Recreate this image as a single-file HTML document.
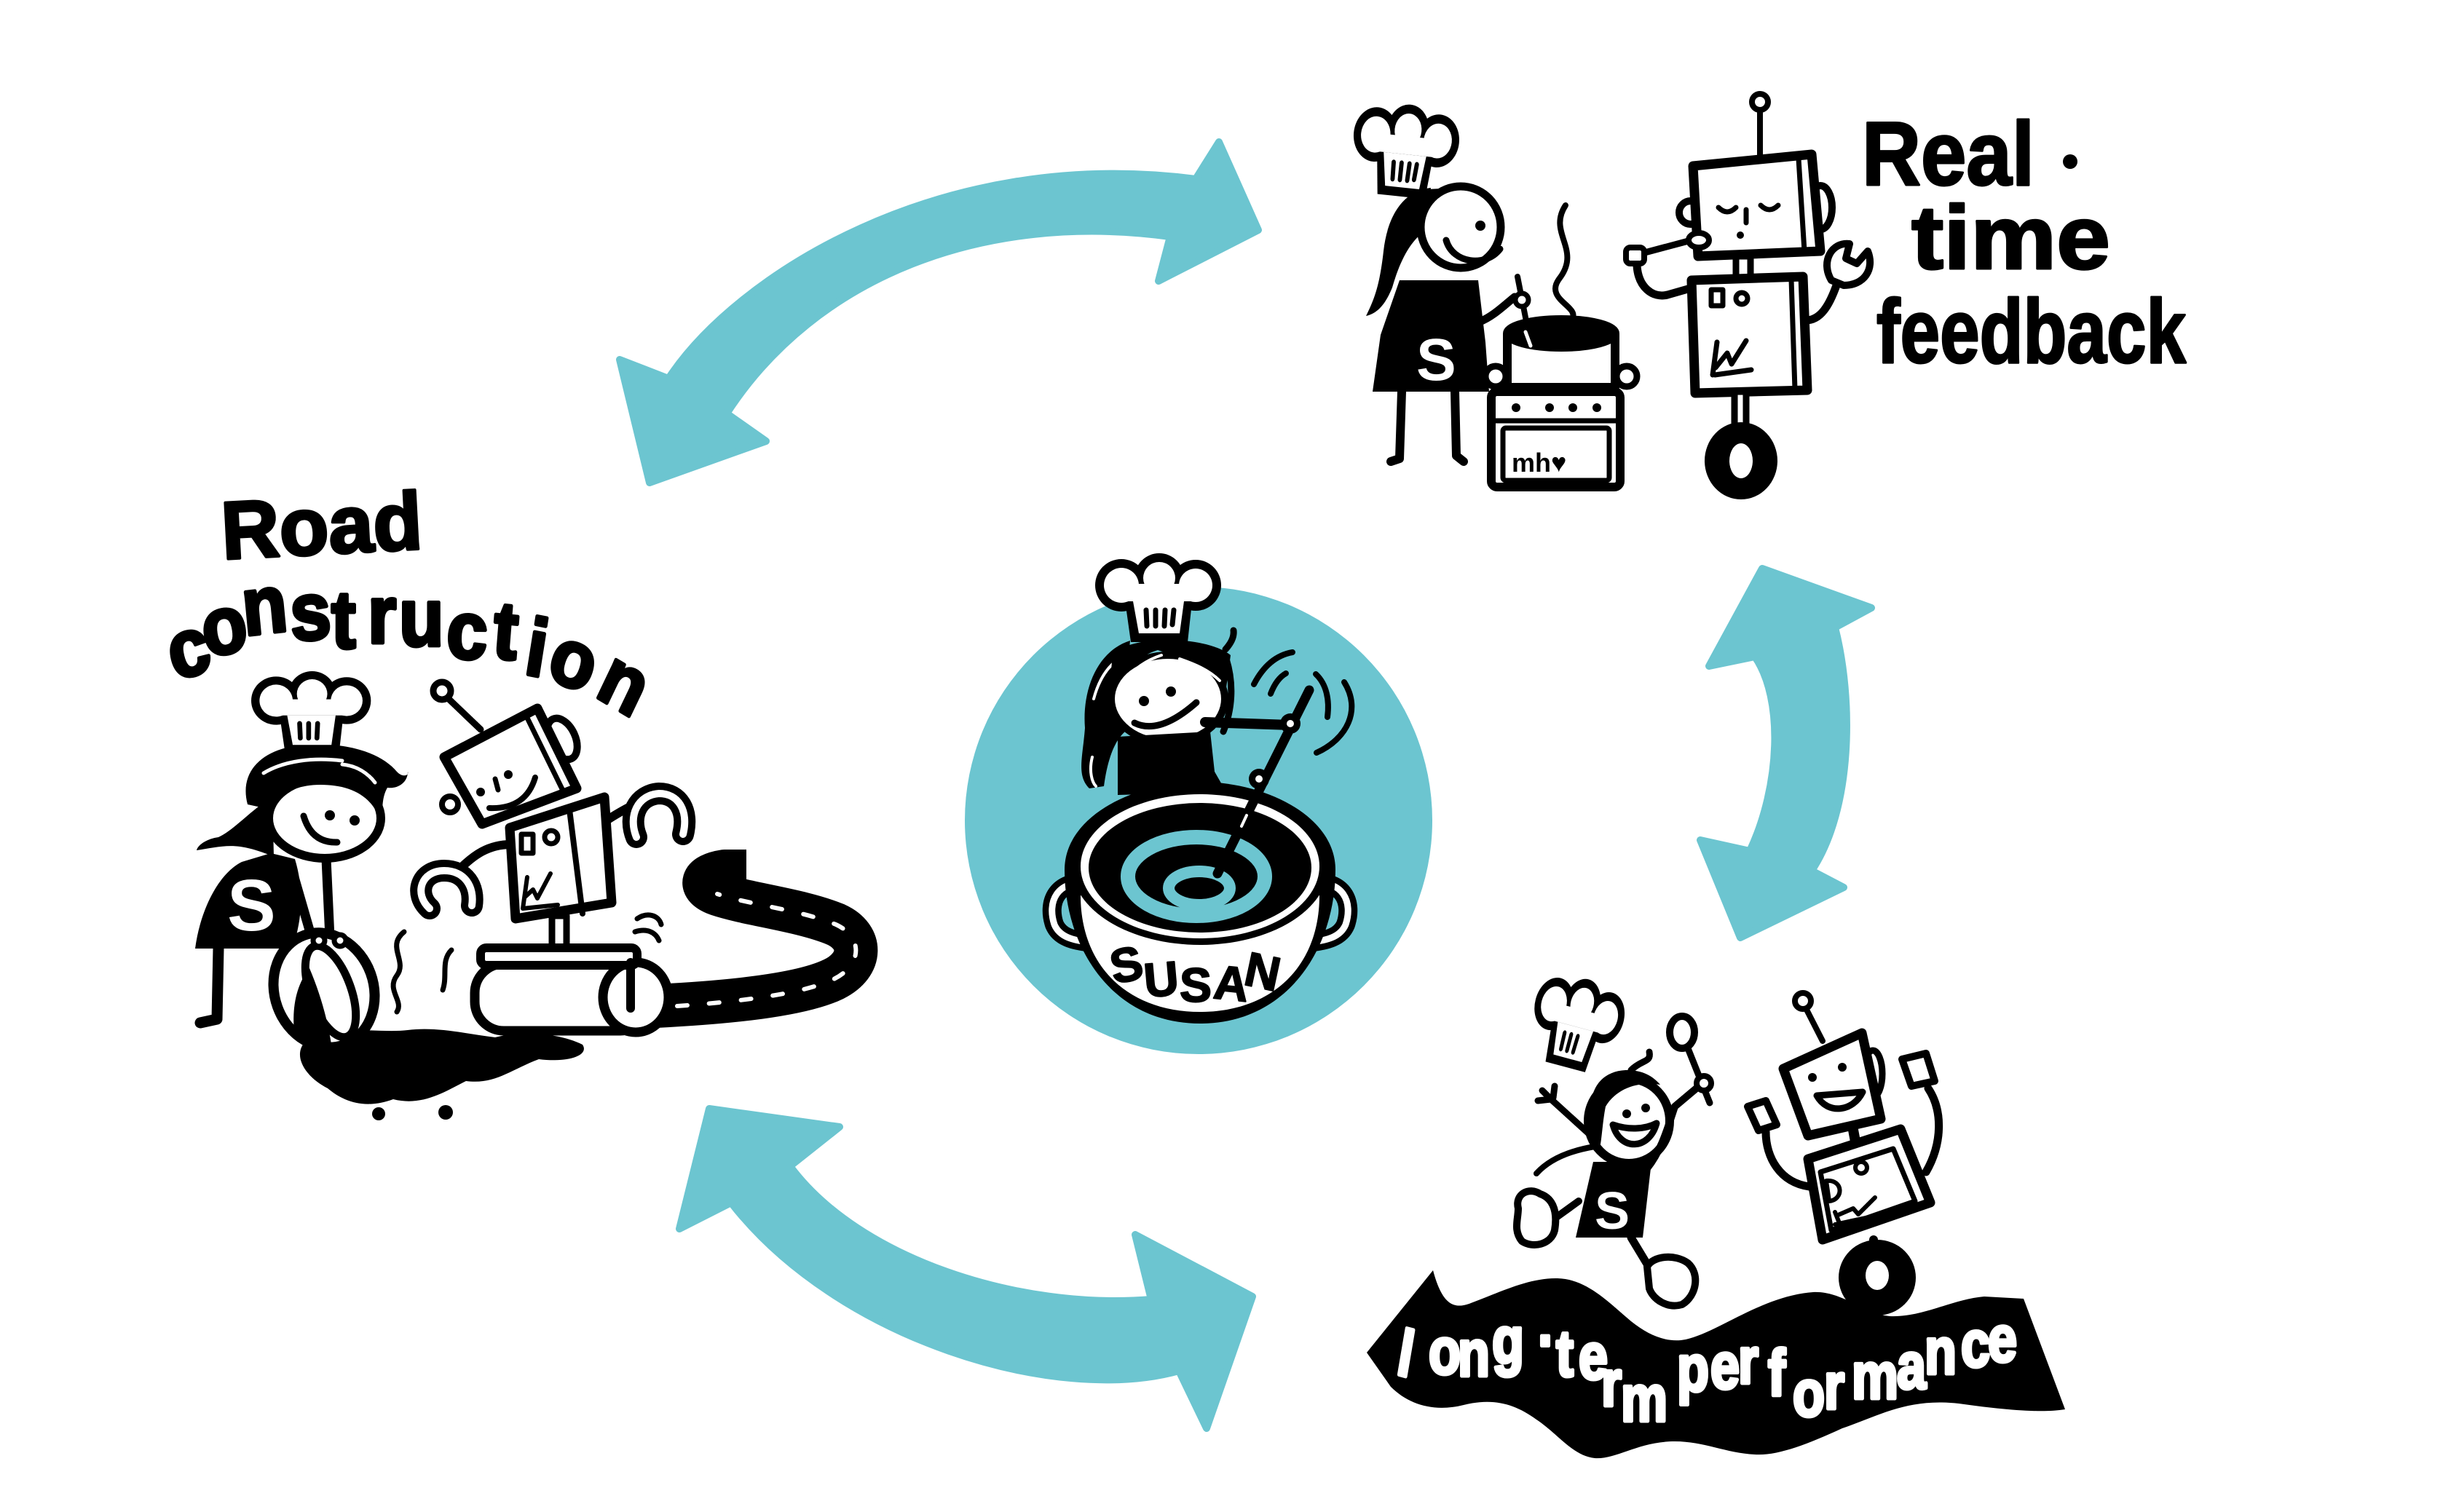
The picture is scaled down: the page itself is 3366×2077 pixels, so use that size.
<!DOCTYPE html>
<html><head><meta charset="utf-8"><style>
html,body{margin:0;padding:0;background:#fff;width:3366px;height:2077px;overflow:hidden}
svg{display:block}
.t{font-family:"Liberation Sans","DejaVu Sans",sans-serif;font-weight:bold}
</style></head><body>
<svg width="3366" height="2077" viewBox="0 0 3366 2077" xmlns="http://www.w3.org/2000/svg" stroke-linecap="round" stroke-linejoin="round">
<rect width="3366" height="2077" fill="#fff"/>

<!-- ===== ARROWS ===== -->
<g fill="#6cc5d0" stroke="#6cc5d0" stroke-width="10">
<path d="M851,494 L918,520 C1010,380 1290,200 1642,246 L1674,195 L1728,316 L1591,386 L1607,325 C1350,290 1120,380 998,568 L1052,606 L892,663 Z"/>
<path d="M974,1523 L1153,1548 L1085,1602 C1180,1730 1400,1800 1581,1785 L1559,1696 L1720,1781 L1657,1962 L1619,1883 C1450,1930 1150,1840 1004,1652 L933,1688 Z"/>
<path d="M2420,781 L2570,835 L2520,862 C2545,960 2545,1110 2488,1196 L2532,1219 L2390,1288 L2335,1154 L2403,1169 C2445,1080 2450,960 2410,902 L2347,915 Z"/>
</g>

<!-- ===== CENTER ===== -->
<circle cx="1646" cy="1127" r="321" fill="#6cc5d0"/>
<path d="M1552,880 C1505,895 1486,950 1490,1000 C1487,1040 1478,1065 1496,1083 L1516,1080 C1520,1050 1528,1020 1545,1005 L1545,950 Z" fill="#000"/>
<path d="M1683,892 C1692,882 1695,874 1694,866 M1684,905 C1695,940 1692,975 1680,1005" stroke="#000" stroke-width="9" fill="none"/>
<path d="M1500,1040 C1495,1060 1500,1075 1505,1080 M1502,960 C1510,930 1525,910 1545,900" stroke="#fff" stroke-width="4" fill="none"/>
<ellipse cx="1604" cy="960" rx="78" ry="60" fill="#fff" stroke="#000" stroke-width="10"/>
<path d="M1522,965 C1538,925 1565,900 1590,893 C1625,905 1660,915 1684,945 L1690,900 C1660,875 1560,870 1528,898 Z" fill="#000"/>
<path d="M1545,935 C1560,915 1580,905 1595,900 M1620,905 C1640,912 1660,920 1675,935" stroke="#fff" stroke-width="4" fill="none"/>
<circle cx="1571" cy="963" r="7" fill="#000"/>
<circle cx="1608" cy="950" r="7" fill="#000"/>
<path d="M1558,993 Q1592,1010 1643,965" stroke="#000" stroke-width="9" fill="none"/>
<polygon points="1535,1012 1662,1005 1668,1060 1684,1088 1535,1092" fill="#000"/>
<path d="M1655,992 L1772,996" stroke="#000" stroke-width="14" fill="none"/>
<g stroke="#000" stroke-width="8" fill="none">
<path d="M1722,940 C1735,915 1752,900 1775,896"/>
<path d="M1745,953 C1750,940 1757,930 1766,925"/>
<path d="M1807,926 C1822,940 1826,962 1823,985"/>
<path d="M1808,1034 C1850,1015 1870,975 1846,937"/>
</g>
<path d="M1497,1213 C1450,1208 1438,1240 1448,1270 C1458,1294 1490,1292 1507,1297" stroke="#000" stroke-width="26" fill="none"/>
<path d="M1497,1213 C1450,1208 1438,1240 1448,1270 C1458,1294 1490,1292 1507,1297" stroke="#fff" stroke-width="9" fill="none"/>
<path d="M1799,1213 C1846,1208 1858,1240 1848,1270 C1838,1294 1806,1292 1789,1297" stroke="#000" stroke-width="26" fill="none"/>
<path d="M1799,1213 C1846,1208 1858,1240 1848,1270 C1838,1294 1806,1292 1789,1297" stroke="#fff" stroke-width="9" fill="none"/>
<path d="M1462,1195 C1462,1120 1560,1074 1648,1074 C1736,1074 1834,1120 1834,1195 C1834,1300 1770,1406 1648,1406 C1526,1406 1462,1300 1462,1195 Z" fill="#000"/>
<path d="M1484,1230 C1484,1330 1552,1390 1648,1390 C1744,1390 1812,1330 1812,1230 Z" fill="#fff"/>
<ellipse cx="1648" cy="1190" rx="176" ry="108" fill="#000"/>
<ellipse cx="1648" cy="1190" rx="164" ry="99" fill="#fff"/>
<ellipse cx="1648" cy="1192" rx="153" ry="89" fill="#000"/>
<ellipse cx="1643" cy="1204" rx="94" ry="54" fill="none" stroke="#6cc5d0" stroke-width="20"/>
<ellipse cx="1647" cy="1220" rx="42" ry="23" fill="none" stroke="#6cc5d0" stroke-width="16"/>
<path d="M1798,948 L1672,1200" stroke="#000" stroke-width="13" fill="none"/>
<path d="M1712,1120 L1705,1135" stroke="#fff" stroke-width="4" fill="none"/>
<circle cx="1772" cy="994" r="14" fill="#000"/>
<circle cx="1772" cy="994" r="5" fill="#fff"/>
<circle cx="1729" cy="1070" r="14" fill="#000"/>
<circle cx="1729" cy="1070" r="5" fill="#fff"/>
<text class="t" font-size="66" stroke="#000" stroke-width="2" x="1530 1573 1620 1665 1706" y="1352 1370 1376 1371 1352" rotate="-12 -5 0 6 12">SUSAN</text>
<g transform="translate(1504,760)">
<g fill="#000"><circle cx="36" cy="44" r="36"/><circle cx="88" cy="34" r="34"/><circle cx="138" cy="44" r="35"/><rect x="14" y="40" width="144" height="38" rx="18"/><polygon points="40,58 134,58 127,122 49,122"/></g>
<g fill="#fff"><circle cx="36" cy="44" r="24"/><circle cx="88" cy="34" r="22"/><circle cx="138" cy="44" r="23"/><rect x="26" y="42" width="120" height="24" rx="12"/><polygon points="52,66 122,66 116,110 60,110"/></g>
<g stroke="#000" stroke-width="7"><line x1="70" y1="78" x2="71" y2="100"/><line x1="83" y1="78" x2="83" y2="100"/><line x1="96" y1="78" x2="95" y2="100"/><line x1="108" y1="78" x2="106" y2="98"/></g>
</g>

<!-- ===== TOP RIGHT SCENE ===== -->
<path d="M1965,258 C1925,262 1905,300 1900,345 C1895,390 1888,410 1876,434 C1895,430 1905,412 1912,395 C1922,360 1936,332 1956,318 Z" fill="#000"/>
<ellipse cx="2006" cy="312" rx="55" ry="56" fill="#fff" stroke="#000" stroke-width="11"/>
<path d="M1952,300 C1958,275 1975,262 1998,258 L1960,260 Z" fill="#000"/>
<circle cx="2033" cy="310" r="7" fill="#000"/>
<path d="M1986,330 C1995,362 2040,368 2060,342" stroke="#000" stroke-width="9" fill="none"/>
<polygon points="1922,385 2030,385 2040,470 2045,538 1885,538 1896,460" fill="#000"/>
<text class="t" font-size="82" x="1945" y="522" fill="#fff">S</text>
<path d="M1925,538 L1922,630 L1910,634 M1998,538 L2000,626 L2010,634" stroke="#000" stroke-width="12" fill="none"/>
<path d="M2032,442 C2050,435 2065,420 2080,408" stroke="#000" stroke-width="11" fill="none"/>
<path d="M2084,380 L2104,482" stroke="#000" stroke-width="8" fill="none"/>
<circle cx="2090" cy="412" r="9" fill="#fff" stroke="#000" stroke-width="7"/>
<path d="M2150,282 C2125,320 2172,342 2142,382 C2120,410 2166,420 2160,436" stroke="#000" stroke-width="8" fill="none"/>
<circle cx="2054" cy="517" r="14" fill="#fff" stroke="#000" stroke-width="9"/>
<circle cx="2234" cy="517" r="14" fill="#fff" stroke="#000" stroke-width="9"/>
<path d="M2070,460 L2070,532 L2218,532 L2218,460 Z" fill="#fff" stroke="#000" stroke-width="12"/>
<ellipse cx="2144" cy="458" rx="75" ry="20" fill="#000" stroke="#000" stroke-width="10"/>
<path d="M2095,456 L2102,475" stroke="#fff" stroke-width="5"/>
<rect x="2048" y="538" width="177" height="131" rx="8" fill="#fff" stroke="#000" stroke-width="12"/>
<line x1="2050" y1="578" x2="2222" y2="578" stroke="#000" stroke-width="7"/>
<rect x="2064" y="588" width="146" height="72" rx="4" fill="none" stroke="#000" stroke-width="7"/>
<g fill="#000"><circle cx="2082" cy="560" r="6"/><circle cx="2128" cy="560" r="6"/><circle cx="2160" cy="560" r="6"/><circle cx="2193" cy="560" r="6"/></g>
<text class="t" font-size="36" x="2076" y="648">mh♥</text>
<line x1="2417" y1="152" x2="2417" y2="222" stroke="#000" stroke-width="8"/>
<circle cx="2417" cy="140" r="11" fill="#fff" stroke="#000" stroke-width="8"/>
<circle cx="2322" cy="292" r="16" fill="#fff" stroke="#000" stroke-width="10"/>
<ellipse cx="2500" cy="285" rx="16" ry="30" fill="#fff" stroke="#000" stroke-width="10"/>
<polygon points="2325,228 2488,212 2500,345 2332,352" fill="#fff" stroke="#000" stroke-width="13"/>
<path d="M2470,218 L2478,345" stroke="#000" stroke-width="7"/>
<g stroke="#000" stroke-width="7" fill="none"><path d="M2360,285 Q2372,297 2384,285"/><path d="M2418,282 Q2430,294 2442,282"/><path d="M2398,288 L2398,306"/></g>
<circle cx="2390" cy="323" r="5" fill="#000"/>
<path d="M2240,352 L2330,328" stroke="#000" stroke-width="9"/>
<ellipse cx="2333" cy="330" rx="14" ry="10" fill="#fff" stroke="#000" stroke-width="8"/>
<rect x="2233" y="340" width="25" height="22" rx="6" fill="#fff" stroke="#000" stroke-width="8"/>
<path d="M2248,365 C2250,395 2270,410 2290,405 L2325,395" stroke="#000" stroke-width="11" fill="none"/>
<rect x="2384" y="352" width="20" height="32" fill="#fff" stroke="#000" stroke-width="9"/>
<polygon points="2323,385 2476,380 2482,536 2328,540" fill="#fff" stroke="#000" stroke-width="13"/>
<path d="M2460,384 L2465,535" stroke="#000" stroke-width="7"/>
<rect x="2350" y="398" width="16" height="22" fill="#fff" stroke="#000" stroke-width="7"/>
<circle cx="2392" cy="410" r="8" fill="#fff" stroke="#000" stroke-width="7"/>
<path d="M2352,515 L2358,470 M2356,505 L2372,485 L2378,500 L2398,468 M2355,515 L2405,508" stroke="#000" stroke-width="7" fill="none"/>
<path d="M2480,440 C2500,440 2512,420 2522,392" stroke="#000" stroke-width="11" fill="none"/>
<path d="M2515,385 C2500,360 2515,332 2540,335 L2535,355 L2550,362 L2565,345 C2575,370 2560,392 2532,392 Z" fill="#fff" stroke="#000" stroke-width="10"/>
<rect x="2382" y="538" width="16" height="48" fill="#fff" stroke="#000" stroke-width="9"/>
<ellipse cx="2391" cy="633" rx="50" ry="53" fill="#000"/>
<ellipse cx="2391" cy="633" rx="16" ry="24" fill="#fff"/>
<text class="t" x="2557" y="254" font-size="124" stroke="#000" stroke-width="3" textLength="237" lengthAdjust="spacingAndGlyphs">Real</text>
<circle cx="2843" cy="222" r="10" fill="#000"/>
<text class="t" x="2625" y="369" font-size="124" stroke="#000" stroke-width="3" textLength="273" lengthAdjust="spacingAndGlyphs">time</text>
<text class="t" x="2577" y="498" font-size="124" stroke="#000" stroke-width="3" textLength="425" lengthAdjust="spacingAndGlyphs">feedback</text>
<g transform="translate(1864,136) rotate(6) scale(0.84 1.04)">
<g fill="#000"><circle cx="36" cy="44" r="36"/><circle cx="88" cy="34" r="34"/><circle cx="138" cy="44" r="35"/><rect x="14" y="40" width="144" height="38" rx="18"/><polygon points="40,58 134,58 127,122 49,122"/></g>
<g fill="#fff"><circle cx="36" cy="44" r="24"/><circle cx="88" cy="34" r="22"/><circle cx="138" cy="44" r="23"/><rect x="26" y="42" width="120" height="24" rx="12"/><polygon points="52,66 122,66 116,110 60,110"/></g>
<g stroke="#000" stroke-width="7"><line x1="70" y1="78" x2="71" y2="100"/><line x1="83" y1="78" x2="83" y2="100"/><line x1="96" y1="78" x2="95" y2="100"/><line x1="108" y1="78" x2="106" y2="98"/></g>
</g>

<!-- ===== LEFT SCENE ===== -->
<text class="t" x="306" y="768" font-size="112" stroke="#000" stroke-width="4" textLength="276" lengthAdjust="spacingAndGlyphs" transform="rotate(-3 306 768)">Road</text>
<text class="t" font-size="112" stroke="#000" stroke-width="5" transform="scale(0.9 1)" x="266.7 314.4 373.3 444.4 505.6 561.1 608.9 680 750 797.8 831.1 905.6" y="935 903 873 880 890 883 887 903 903 925 930 955" rotate="-15 -10 -6 -3 0 0 0 3 5 10 20 28">construction</text>
<!-- road -->
<path d="M900,1382 C1000,1377 1100,1367 1145,1345 C1185,1325 1185,1287 1148,1270 C1100,1250 1030,1243 985,1228 C958,1218 962,1202 995,1197 L1025,1197" stroke="#000" stroke-width="60" fill="none" stroke-linecap="butt"/>
<path d="M930,1382 C1000,1377 1100,1367 1145,1345 C1185,1325 1185,1287 1148,1270 C1100,1250 1030,1243 985,1228" stroke="#fff" stroke-width="6" fill="none" stroke-dasharray="14 30"/>
<!-- puddle -->
<path d="M420,1430 C450,1405 520,1420 560,1415 C600,1410 640,1420 680,1425 C720,1415 770,1420 800,1435 C810,1450 780,1460 740,1455 C700,1470 680,1490 640,1485 C610,1500 580,1520 540,1510 C500,1525 470,1512 450,1495 C420,1480 400,1450 420,1430 Z" fill="#000"/>
<circle cx="612" cy="1528" r="10" fill="#000"/><circle cx="520" cy="1530" r="9" fill="#000"/>
<!-- chef left -->
<path d="M372,1172 L405,1180 C420,1230 412,1270 402,1303 L268,1303 C275,1250 300,1200 332,1184 Z" fill="#000"/>
<text class="t" font-size="100" x="312" y="1278" fill="#fff">S</text>
<path d="M300,1303 L298,1400 L275,1405" stroke="#000" stroke-width="15" fill="none"/>
<ellipse cx="446" cy="1124" rx="77" ry="55" fill="#fff" stroke="#000" stroke-width="12"/>
<path d="M340,1105 C328,1060 360,1030 410,1024 C465,1018 520,1030 545,1060 C552,1068 562,1066 560,1060 C560,1076 545,1084 532,1082 C524,1096 526,1110 524,1122 L514,1110 C498,1086 470,1078 440,1078 C405,1078 382,1092 372,1112 Z" fill="#000"/>
<path d="M374,1095 C345,1112 322,1140 300,1150 C285,1152 272,1160 270,1168 C290,1165 310,1160 330,1163 C350,1166 362,1172 376,1176 Z" fill="#000"/>
<path d="M362,1062 C390,1045 430,1040 470,1045 M470,1050 C490,1052 505,1062 515,1075" stroke="#fff" stroke-width="5" fill="none"/>
<circle cx="453" cy="1120" r="7" fill="#000"/><circle cx="487" cy="1127" r="7" fill="#000"/>
<path d="M417,1121 Q428,1158 463,1157" stroke="#000" stroke-width="9" fill="none"/>
<path d="M448,1180 L453,1288 M402,1198 L428,1288" stroke="#000" stroke-width="13" fill="none"/>
<ellipse cx="445" cy="1360" rx="68" ry="80" transform="rotate(-20 445 1360)" fill="#fff" stroke="#000" stroke-width="14"/>
<ellipse cx="454" cy="1362" rx="28" ry="66" transform="rotate(-20 454 1362)" fill="#fff" stroke="#000" stroke-width="11"/>
<path d="M425,1330 C442,1370 452,1410 456,1442 L405,1425 C400,1390 405,1355 425,1330 Z" fill="#000"/>
<circle cx="438" cy="1292" r="8" fill="#fff" stroke="#000" stroke-width="7"/>
<circle cx="467" cy="1292" r="8" fill="#fff" stroke="#000" stroke-width="7"/>
<path d="M555,1280 C530,1300 560,1320 545,1340 C530,1360 555,1375 545,1390" stroke="#000" stroke-width="7" fill="none"/>
<path d="M620,1305 C605,1320 615,1340 608,1360" stroke="#000" stroke-width="7" fill="none"/>
<path d="M875,1262 C890,1252 905,1258 908,1270 M872,1280 C888,1275 900,1280 905,1292" stroke="#000" stroke-width="7" fill="none"/>
<g transform="translate(345,922) scale(0.95 0.92)">
<g fill="#000"><circle cx="36" cy="44" r="36"/><circle cx="88" cy="34" r="34"/><circle cx="138" cy="44" r="35"/><rect x="14" y="40" width="144" height="38" rx="18"/><polygon points="40,58 134,58 127,122 49,122"/></g>
<g fill="#fff"><circle cx="36" cy="44" r="24"/><circle cx="88" cy="34" r="22"/><circle cx="138" cy="44" r="23"/><rect x="26" y="42" width="120" height="24" rx="12"/><polygon points="52,66 122,66 116,110 60,110"/></g>
<g stroke="#000" stroke-width="7"><line x1="70" y1="78" x2="71" y2="100"/><line x1="83" y1="78" x2="83" y2="100"/><line x1="96" y1="78" x2="95" y2="100"/></g>
</g>
<!-- robot left -->
<line x1="614" y1="958" x2="660" y2="1002" stroke="#000" stroke-width="9"/>
<circle cx="607" cy="949" r="12" fill="#fff" stroke="#000" stroke-width="9"/>
<ellipse cx="772" cy="1015" rx="18" ry="30" transform="rotate(-25 772 1015)" fill="#fff" stroke="#000" stroke-width="10"/>
<circle cx="618" cy="1105" r="11" fill="#fff" stroke="#000" stroke-width="8"/>
<polygon points="610,1040 738,973 792,1083 662,1132" fill="#fff" stroke="#000" stroke-width="13"/>
<path d="M722,982 L775,1090" stroke="#000" stroke-width="7"/>
<circle cx="660" cy="1088" r="6" fill="#000"/><circle cx="698" cy="1064" r="6" fill="#000"/>
<path d="M680,1070 L684,1085" stroke="#000" stroke-width="7"/>
<path d="M672,1110 Q722,1112 735,1068" stroke="#000" stroke-width="8" fill="none"/>
<path d="M702,1160 C670,1160 650,1175 630,1195" stroke="#000" stroke-width="12" fill="none"/>
<path d="M590,1248 C568,1228 578,1196 610,1196 C638,1196 652,1218 648,1244" stroke="#000" stroke-width="30" fill="none"/>
<path d="M590,1248 C568,1228 578,1196 610,1196 C638,1196 652,1218 648,1244" stroke="#fff" stroke-width="10" fill="none"/>
<path d="M836,1125 C860,1110 880,1098 905,1098" stroke="#000" stroke-width="12" fill="none"/>
<path d="M874,1150 C862,1120 876,1092 905,1090 C932,1090 946,1114 938,1146" stroke="#000" stroke-width="30" fill="none"/>
<path d="M874,1150 C862,1120 876,1092 905,1090 C932,1090 946,1114 938,1146" stroke="#fff" stroke-width="10" fill="none"/>
<polygon points="700,1137 830,1095 840,1240 708,1262" fill="#fff" stroke="#000" stroke-width="13"/>
<path d="M782,1112 L800,1255" stroke="#000" stroke-width="8"/>
<rect x="716" y="1146" width="16" height="26" fill="#fff" stroke="#000" stroke-width="7"/>
<circle cx="757" cy="1150" r="9" fill="#fff" stroke="#000" stroke-width="7"/>
<path d="M718,1248 L724,1205 M721,1232 L732,1222 L738,1234 L756,1200 M718,1248 L766,1243" stroke="#000" stroke-width="6" fill="none"/>
<rect x="758" y="1258" width="20" height="46" fill="#fff" stroke="#000" stroke-width="9"/>
<rect x="652" y="1324" width="240" height="92" rx="40" fill="#fff" stroke="#000" stroke-width="13"/>
<ellipse cx="873" cy="1370" rx="45" ry="48" fill="#fff" stroke="#000" stroke-width="13"/>
<rect x="660" y="1302" width="215" height="24" rx="8" fill="#fff" stroke="#000" stroke-width="12"/>
<path d="M866,1322 L866,1385" stroke="#000" stroke-width="12"/>

<!-- ===== BOTTOM RIGHT SCENE ===== -->
<path d="M1877,1858 L1968,1745 C1980,1790 1995,1800 2020,1790 C2060,1775 2100,1755 2139,1756 C2180,1757 2210,1790 2240,1815 C2265,1835 2290,1845 2315,1840 C2360,1830 2420,1780 2490,1775 C2530,1773 2560,1805 2595,1808 C2640,1810 2680,1785 2725,1781 L2779,1784 L2836,1936 C2800,1942 2740,1935 2690,1928 C2620,1920 2580,1945 2530,1962 C2480,1985 2440,2000 2410,1998 C2370,1996 2340,1980 2300,1980 C2250,1980 2220,2005 2190,2003 C2160,2000 2140,1970 2110,1950 C2080,1928 2050,1920 2010,1930 C1970,1940 1935,1930 1910,1905 Z" fill="#000"/>
<text class="t" fill="#fff" stroke="#fff" stroke-width="5" font-size="90" transform="scale(0.8 1)" x="2395 2452.5 2502.5 2561.3 2640 2671.3 2710 2748.8 2782.5 2862.5 2878.8 2936.3 2983.8 3035 3077.5 3131.3 3178.8 3256.3 3303.8 3366.3 3412.5" y="1887 1887 1890 1872 1872 1890 1894 1931 1952 1952 1911 1907 1900 1917 1945 1935 1921 1907 1887 1877 1870" rotate="12 0 0 0 0 0 0 0 0 0 0 0 0 0 0 0 0 0 0 0 0">long·term performance</text>
<!-- jumping chef -->
<path d="M2190,1575 C2160,1580 2130,1590 2110,1612" stroke="#000" stroke-width="8" fill="none"/>
<ellipse cx="2237" cy="1540" rx="56" ry="58" fill="#fff" stroke="#000" stroke-width="12"/>
<path d="M2185,1530 C2182,1490 2205,1470 2235,1470 C2255,1470 2270,1478 2280,1490 C2250,1485 2220,1495 2205,1520 C2200,1545 2200,1570 2195,1585 C2185,1570 2183,1550 2185,1530 Z" fill="#000"/>
<path d="M2240,1470 C2255,1455 2268,1460 2265,1445" stroke="#000" stroke-width="9" fill="none"/>
<circle cx="2234" cy="1530" r="6" fill="#000"/><circle cx="2260" cy="1522" r="6" fill="#000"/>
<path d="M2215,1545 C2225,1582 2265,1580 2275,1543 C2258,1552 2235,1552 2215,1545 Z" fill="#fff" stroke="#000" stroke-width="9"/>
<polygon points="2188,1596 2268,1596 2256,1700 2164,1700" fill="#000"/>
<text class="t" font-size="72" x="2190" y="1688" fill="#fff">S</text>
<path d="M2262,1605 C2282,1580 2290,1550 2300,1520 L2338,1488" stroke="#000" stroke-width="10" fill="none"/>
<path d="M2348,1515 L2312,1425" stroke="#000" stroke-width="9"/>
<ellipse cx="2310" cy="1418" rx="17" ry="22" fill="#fff" stroke="#000" stroke-width="10"/>
<circle cx="2340" cy="1488" r="10" fill="#fff" stroke="#000" stroke-width="8"/>
<path d="M2185,1560 L2130,1510 M2130,1510 L2118,1498 M2130,1510 L2112,1512 M2133,1508 L2135,1492" stroke="#000" stroke-width="9" fill="none"/>
<path d="M2168,1650 L2132,1676" stroke="#000" stroke-width="10"/>
<path d="M2085,1660 C2080,1640 2100,1630 2115,1640 C2130,1645 2140,1660 2135,1690 C2130,1710 2105,1715 2090,1705 C2078,1690 2085,1675 2085,1660 Z" fill="#fff" stroke="#000" stroke-width="10"/>
<path d="M2240,1700 L2275,1758" stroke="#000" stroke-width="11"/>
<path d="M2262,1740 C2270,1725 2300,1722 2318,1735 C2335,1750 2330,1780 2310,1792 C2290,1798 2270,1785 2265,1770 Z" fill="#fff" stroke="#000" stroke-width="10"/>
<g transform="translate(2103,1343) rotate(15 62 60) scale(0.72 1.02)">
<g fill="#000"><circle cx="36" cy="44" r="36"/><circle cx="88" cy="34" r="34"/><circle cx="138" cy="44" r="35"/><rect x="14" y="40" width="144" height="38" rx="18"/><polygon points="40,58 134,58 127,122 49,122"/></g>
<g fill="#fff"><circle cx="36" cy="44" r="24"/><circle cx="88" cy="34" r="22"/><circle cx="138" cy="44" r="23"/><rect x="26" y="42" width="120" height="24" rx="12"/><polygon points="52,66 122,66 116,110 60,110"/></g>
<g stroke="#000" stroke-width="7"><line x1="70" y1="78" x2="71" y2="100"/><line x1="83" y1="78" x2="83" y2="100"/><line x1="96" y1="78" x2="95" y2="100"/></g>
</g>
<!-- robot bottom right -->
<path d="M2480,1385 L2503,1430" stroke="#000" stroke-width="8"/>
<circle cx="2476" cy="1375" r="11" fill="#fff" stroke="#000" stroke-width="8"/>
<ellipse cx="2572" cy="1475" rx="13" ry="32" fill="#fff" stroke="#000" stroke-width="9"/>
<polygon points="2449,1468 2557,1419 2583,1537 2483,1560" fill="#fff" stroke="#000" stroke-width="13"/>
<circle cx="2489" cy="1480" r="6" fill="#000"/><circle cx="2530" cy="1466" r="6" fill="#000"/>
<path d="M2495,1505 C2510,1532 2545,1527 2558,1500 Z" fill="#fff" stroke="#000" stroke-width="9"/>
<path d="M2545,1552 L2548,1568" stroke="#000" stroke-width="14"/>
<path d="M2485,1630 C2445,1625 2425,1590 2425,1555" stroke="#000" stroke-width="11" fill="none"/>
<polygon points="2400,1520 2425,1512 2440,1545 2415,1553" fill="#fff" stroke="#000" stroke-width="10"/>
<path d="M2645,1610 C2668,1570 2668,1525 2648,1495" stroke="#000" stroke-width="11" fill="none"/>
<polygon points="2612,1455 2645,1447 2657,1485 2625,1492" fill="#fff" stroke="#000" stroke-width="10"/>
<polygon points="2483,1592 2610,1551 2651,1652 2503,1703" fill="#fff" stroke="#000" stroke-width="13"/>
<polygon points="2500,1610 2600,1578 2630,1650 2515,1690" fill="#fff" stroke="#000" stroke-width="7"/>
<path d="M2508,1622 L2512,1650 C2532,1648 2532,1620 2508,1622 Z" fill="none" stroke="#000" stroke-width="6"/>
<circle cx="2556" cy="1604" r="8" fill="#fff" stroke="#000" stroke-width="6"/>
<path d="M2520,1665 L2530,1690 M2522,1670 L2545,1660 L2552,1668 L2575,1645 M2520,1682 L2600,1665" stroke="#000" stroke-width="6" fill="none"/>
<path d="M2573,1703 L2573,1712" stroke="#000" stroke-width="12"/>
<ellipse cx="2578" cy="1755" rx="53" ry="52" fill="#000"/>
<ellipse cx="2578" cy="1752" rx="16" ry="20" fill="#fff"/>
</svg>
</body></html>
